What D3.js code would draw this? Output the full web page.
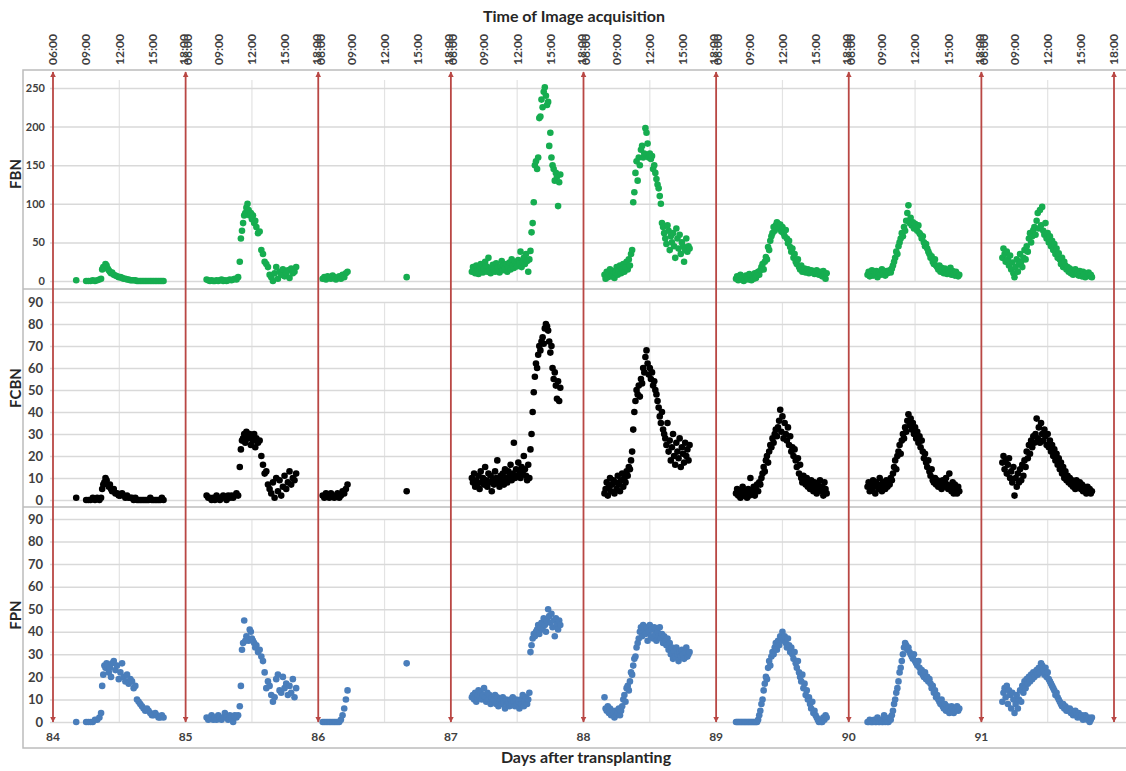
<!DOCTYPE html>
<html><head><meta charset="utf-8">
<script src="https://cdn.jsdelivr.net/npm/d3@7"></script>
<style>body{margin:0;background:#fff}svg text{font-family:Lato,"Open Sans",sans-serif}</style>
</head><body><svg id="chart" width="1126" height="771"></svg>
<script>
// ---------- data ----------
const days = [84, 85, 86, 87, 88, 89, 90, 91];
const timeLabels = ["06:00", "09:00", "12:00", "15:00", "18:00"];
const fbnTicks = [0, 50, 100, 150, 200, 250];
const pctTicks = [0, 10, 20, 30, 40, 50, 60, 70, 80, 90];
const seriesNames = ["FBN", "FCBN", "FPN"];
const seriesColors = ["#16ad50", "#000000", "#4a7ebb"];

// acquisition times (hour of day)
const t84 = [8.1,9.0,9.2,9.4,9.6,9.8,10.0,10.2,10.35,10.45,10.55,10.65,10.75,10.85,10.95,11.05,11.15,11.25,11.35,11.5,11.65,11.8,11.95,12.1,12.25,12.4,12.55,12.7,12.85,13.0,13.15,13.3,13.45,13.6,13.75,13.9,14.05,14.2,14.35,14.5,14.65,14.8,14.95,15.1,15.25,15.4,15.55,15.7,15.85,16.0];
const t85 = [7.9,8.05,8.2,8.35,8.5,8.65,8.8,8.95,9.1,9.25,9.4,9.55,9.7,9.85,10.0,10.15,10.3,10.45,10.6,10.75,10.9,11.0,11.1,11.2,11.3,11.4,11.5,11.6,11.7,11.8,11.9,12.0,12.1,12.2,12.3,12.4,12.55,12.7,12.85,13.0,13.15,13.3,13.45,13.6,13.75,13.9,14.05,14.2,14.35,14.5,14.65,14.8,14.95,15.1,15.25,15.4,15.55,15.7,15.85,16.0];
const t86 = [6.4,6.55,6.7,6.85,7.0,7.15,7.3,7.45,7.6,7.75,7.9,8.05,8.2,8.35,8.5,8.65,14.0];
const t87 = [7.9,8.0,8.1,8.2,8.3,8.4,8.5,8.6,8.7,8.8,8.9,9.0,9.1,9.2,9.3,9.4,9.5,9.6,9.7,9.8,9.9,10.0,10.1,10.2,10.3,10.4,10.5,10.6,10.7,10.8,10.9,11.0,11.1,11.2,11.3,11.4,11.5,11.6,11.7,11.8,11.9,12.0,12.1,12.2,12.3,12.4,12.5,12.6,12.7,12.8,12.9,13.0,13.1,13.2,13.3,13.4,13.5,13.6,13.7,13.8,13.9,14.0,14.1,14.2,14.3,14.4,14.5,14.6,14.7,14.8,14.9,15.0,15.1,15.2,15.3,15.4,15.5,15.6,15.7,15.8,15.9];
const t88 = [7.9,8.0,8.1,8.2,8.3,8.4,8.5,8.6,8.7,8.8,8.9,9.0,9.1,9.2,9.3,9.4,9.5,9.6,9.7,9.8,9.9,10.0,10.1,10.2,10.3,10.4,10.5,10.6,10.7,10.8,10.9,11.0,11.1,11.2,11.3,11.4,11.5,11.6,11.7,11.8,11.9,12.0,12.1,12.2,12.3,12.4,12.5,12.6,12.7,12.8,12.9,13.0,13.1,13.2,13.3,13.4,13.5,13.6,13.7,13.8,13.9,14.0,14.1,14.2,14.3,14.4,14.5,14.6,14.7,14.8,14.9,15.0,15.1,15.2,15.3,15.4,15.5,15.6];
const t89 = [7.8,7.9,8.0,8.1,8.2,8.3,8.4,8.5,8.6,8.7,8.8,8.9,9.0,9.1,9.2,9.3,9.4,9.5,9.6,9.7,9.8,9.9,10.0,10.1,10.2,10.3,10.4,10.5,10.6,10.7,10.8,10.9,11.0,11.1,11.2,11.3,11.4,11.5,11.6,11.7,11.8,11.9,12.0,12.1,12.2,12.3,12.4,12.5,12.6,12.7,12.8,12.9,13.0,13.1,13.2,13.3,13.4,13.5,13.6,13.7,13.8,13.9,14.0,14.1,14.2,14.3,14.4,14.5,14.6,14.7,14.8,14.9,15.0,15.1,15.2,15.3,15.4,15.5,15.6,15.7,15.8,15.9,16.0];
const t90 = [7.7,7.8,7.9,8.0,8.1,8.2,8.3,8.4,8.5,8.6,8.7,8.8,8.9,9.0,9.1,9.2,9.3,9.4,9.5,9.6,9.7,9.8,9.9,10.0,10.1,10.2,10.3,10.4,10.5,10.6,10.7,10.8,10.9,11.0,11.1,11.2,11.3,11.4,11.5,11.6,11.7,11.8,11.9,12.0,12.1,12.2,12.3,12.4,12.5,12.6,12.7,12.8,12.9,13.0,13.1,13.2,13.3,13.4,13.5,13.6,13.7,13.8,13.9,14.0,14.1,14.2,14.3,14.4,14.5,14.6,14.7,14.8,14.9,15.0,15.1,15.2,15.3,15.4,15.5,15.6,15.7,15.8,15.9,16.0];
const t91 = [7.9,8.0,8.1,8.2,8.3,8.4,8.5,8.6,8.7,8.8,8.9,9.0,9.1,9.2,9.3,9.4,9.5,9.6,9.7,9.8,9.9,10.0,10.1,10.2,10.3,10.4,10.5,10.6,10.7,10.8,10.9,11.0,11.1,11.2,11.3,11.4,11.5,11.6,11.7,11.8,11.9,12.0,12.1,12.2,12.3,12.4,12.5,12.6,12.7,12.8,12.9,13.0,13.1,13.2,13.3,13.4,13.5,13.6,13.7,13.8,13.9,14.0,14.1,14.2,14.3,14.4,14.5,14.6,14.7,14.8,14.9,15.0,15.1,15.2,15.3,15.4,15.5,15.6,15.7,15.8,15.9,16.0];

// FBN
const fbn84 = [1,0,0,0,1,0,1,2,3,15,18,17,22,20,16,14,12,10,11,8,7,6,5,5,4,3,3,2,2,1,1,1,1,0,0,0,0,0,0,0,0,0,0,0,0,0,0,0,0,0];
const fbn85 = [2,1,0,1,0,0,1,0,1,2,0,1,0,1,2,1,2,3,2,5,25,55,65,75,85,88,95,100,92,85,88,80,85,75,78,70,62,64,40,35,25,22,18,8,5,0,10,18,3,12,8,15,6,10,14,4,16,10,12,18];
const fbn86 = [3,5,2,6,4,3,7,5,2,4,6,3,8,5,10,12,5];
const fbn87 = [12,18,15,10,20,14,9,17,22,13,11,16,25,19,12,30,14,10,18,21,15,12,23,17,13,11,19,26,14,20,16,22,12,18,24,15,28,20,17,25,21,19,27,23,38,18,24,30,22,35,26,12,28,39,63,75,102,150,155,145,160,211,213,235,225,245,251,240,228,232,175,192,160,150,145,130,140,135,97,128,138];
const fbn88 = [8,3,12,5,10,15,6,9,13,4,11,18,8,14,20,10,16,22,12,18,25,15,28,20,35,40,102,115,140,155,130,160,150,170,175,160,165,198,192,178,160,165,158,162,145,150,140,132,125,120,110,100,75,70,62,55,48,72,65,40,58,50,62,45,30,68,55,42,60,35,50,45,25,40,55,38,45,42];
const fbn89 = [3,6,1,4,8,2,5,0,3,7,4,2,9,5,1,6,3,10,4,7,12,8,14,18,22,15,25,31,28,44,40,52,58,62,70,65,72,76,74,68,73,64,70,62,58,66,55,49,52,44,38,42,30,35,25,22,28,18,15,20,12,14,16,11,13,15,10,12,14,11,13,9,12,14,10,8,12,11,6,13,9,3,10];
const fbn90 = [8,12,6,10,14,7,11,9,13,5,10,12,8,15,9,11,7,13,10,12,14,11,16,20,25,30,38,35,45,50,55,62,58,70,65,78,88,98,75,82,72,76,68,74,70,65,72,62,60,55,58,50,45,48,42,38,35,30,32,25,22,28,20,18,15,20,12,17,14,10,16,12,9,14,11,17,8,13,10,7,12,9,6,8];
const fbn91 = [30,42,35,25,38,28,20,33,15,24,10,5,18,28,12,22,35,25,18,30,40,28,45,38,55,62,50,58,66,70,60,78,88,68,92,72,96,65,60,75,55,62,50,58,45,52,40,48,35,42,30,36,28,22,30,18,25,20,15,18,12,16,10,14,8,12,15,9,11,7,13,10,6,12,8,5,9,7,11,6,8,5];

// FCBN
const fcbn84 = [1,0,0,0,1,0,1,0,1,5,7,8,10,9,7,6,7,5,4,5,3,3,2,2,3,2,1,2,1,1,1,0,1,0,0,0,0,0,0,0,0,1,0,0,0,0,0,0,1,0];
const fcbn85 = [2,1,1,0,1,0,2,1,0,1,2,1,0,2,1,2,1,2,3,2,15,23,27,28,30,26,31,29,28,30,25,29,27,30,24,28,26,27,20,16,12,13,7,5,3,8,1,10,4,9,2,6,11,5,8,13,7,10,9,12];
const fcbn86 = [2,1,3,2,1,3,2,1,2,3,1,2,4,3,5,7,4];
const fcbn87 = [10,8,12,6,9,7,11,5,13,8,10,7,15,9,6,12,8,11,4,9,7,13,10,18,8,6,11,9,12,7,14,10,8,13,11,16,9,12,26,10,14,11,17,13,10,15,12,20,14,11,9,16,10,23,30,40,49,56,62,60,66,70,68,72,74,71,78,80,79,77,72,67,70,60,55,58,52,46,54,45,51];
const fcbn88 = [3,5,8,2,6,10,4,7,9,3,8,5,11,7,4,9,12,6,10,8,13,11,15,14,18,22,32,40,45,50,48,52,47,55,53,60,58,65,68,62,57,60,55,58,52,54,50,48,45,42,38,35,40,32,30,28,25,35,22,27,18,24,30,20,16,26,22,19,28,15,24,21,17,26,20,23,18,25];
const fcbn89 = [3,5,2,4,1,3,6,2,4,3,1,5,2,10,4,3,6,2,5,7,4,8,7,10,12,15,13,18,20,17,22,25,24,28,26,30,32,29,33,36,41,31,38,28,35,30,27,33,25,29,22,24,20,23,18,15,19,12,16,10,8,11,9,7,10,6,8,5,9,7,4,8,6,3,7,5,9,4,6,2,8,5,3];
const fcbn90 = [6,8,4,7,5,9,6,3,8,7,5,10,6,4,8,7,5,9,6,8,7,10,9,12,15,18,14,20,22,25,21,27,30,28,33,31,36,39,34,37,32,35,30,33,28,31,26,29,24,27,22,19,21,17,15,18,13,11,14,9,8,10,7,9,6,8,7,5,9,6,8,10,7,5,12,6,4,8,3,7,5,3,6,4];
const fcbn91 = [17,20,14,18,12,16,19,10,13,8,15,2,10,6,12,8,14,9,16,11,18,15,22,19,25,21,27,24,29,26,30,37,28,33,26,35,30,27,32,29,25,30,24,27,22,25,20,23,18,21,16,19,14,17,12,15,10,13,9,11,8,10,7,9,6,8,5,9,7,6,8,5,7,4,6,5,3,6,4,5,3,4];

// FPN
const fpn84 = [0,0,0,0,0,1,1,2,4,16,21,25,24,26,25,22,24,20,26,27,23,25,19,22,26,20,18,21,17,19,18,15,16,10,9,8,7,6,5,6,5,4,3,3,4,3,2,2,3,2];
const fpn85 = [2,1,2,3,1,2,1,3,2,1,2,4,2,1,3,2,0,3,2,3,7,16,32,35,45,36,38,37,36,41,40,37,36,35,33,34,31,32,29,27,22,15,18,16,12,9,11,19,21,14,13,20,15,17,12,16,13,19,11,15];
const fpn86 = [0,0,0,0,0,0,0,0,0,0,0,1,3,6,10,14,26];
const fpn87 = [11,12,10,13,9,12,14,11,13,10,12,15,11,9,13,10,12,8,11,9,10,12,8,11,7,9,10,8,11,9,6,10,8,9,7,10,8,11,9,7,10,8,9,6,10,8,12,7,9,11,8,10,13,31,34,37,39,38,40,41,43,39,42,44,41,46,43,40,45,50,47,44,48,42,45,38,46,43,41,45,43];
const fpn88 = [11,6,5,7,4,6,3,5,4,2,5,3,4,6,3,5,7,10,12,9,15,16,14,18,22,21,25,28,29,33,35,37,40,42,38,43,41,39,42,36,40,43,38,41,37,42,39,36,40,38,42,37,39,35,38,36,34,37,32,35,30,33,28,31,29,33,30,27,31,29,32,30,28,31,33,29,30,31];
const fpn89 = [0,0,0,0,0,0,0,0,0,0,0,0,0,0,0,0,0,0,0,0,1,3,5,8,10,14,17,20,19,24,27,25,29,31,30,33,35,32,36,34,38,37,40,36,38,35,33,37,34,31,33,30,28,31,26,24,27,22,20,18,21,15,17,12,14,10,11,8,6,9,4,5,3,2,1,0,1,0,0,2,1,3,2];
const fpn90 = [0,0,1,0,0,0,1,0,0,2,0,0,1,0,0,3,0,1,0,0,2,1,3,5,8,10,13,15,18,22,24,27,30,33,35,34,32,33,31,30,29,28,30,27,26,25,27,24,22,23,21,20,22,19,20,18,19,17,15,16,13,14,11,12,10,9,8,10,7,6,8,5,7,6,4,5,7,6,4,5,6,7,5,6];
const fpn91 = [9,13,15,11,16,8,14,12,6,13,10,4,8,12,6,10,14,9,16,13,18,15,19,17,20,18,21,19,22,20,21,23,21,24,22,26,25,23,21,24,20,22,19,18,17,16,15,14,12,13,11,10,9,8,7,8,6,7,5,6,5,6,4,5,3,4,5,3,2,4,3,2,3,1,2,3,2,1,2,0,1,2];

// ---------- assembly ----------
const timesByDay = [t84, t85, t86, t87, t88, t89, t90, t91];
const valuesBySeries = [
  [fbn84, fbn85, fbn86, fbn87, fbn88, fbn89, fbn90, fbn91],
  [fcbn84, fcbn85, fcbn86, fcbn87, fcbn88, fcbn89, fcbn90, fcbn91],
  [fpn84, fpn85, fpn86, fpn87, fpn88, fpn89, fpn90, fpn91]
];
function points(si) {
  const out = [];
  days.forEach((d, di) => {
    const tt = timesByDay[di], vv = valuesBySeries[si][di];
    tt.forEach((h, i) => { if (vv[i] !== undefined) out.push({ x: d + (h - 6) / 12, y: vv[i] }); });
  });
  return out;
}

// ---------- layout ----------
const W = 1126;
const svg = d3.select("#chart");
const x = d3.scaleLinear().domain([84, 92]).range([53, 1114]);
const panels = [
  { y: d3.scaleLinear().domain([0, 250]).range([281, 88]), ticks: fbnTicks, top: 80, fs: 11, lx: 45, titleY: 174 },
  { y: d3.scaleLinear().domain([0, 90]).range([500, 302]), ticks: pctTicks, top: 302, fs: 13, lx: 43, titleY: 388 },
  { y: d3.scaleLinear().domain([0, 90]).range([722, 519]), ticks: pctTicks, top: 519, fs: 13, lx: 43, titleY: 615 }
];
const gridColor = "#d9d9d9", frameColor = "#bcbcbc", textColor = "#404040";

// vertical gridlines at noon
const noon = days.map(d => d + 0.5);
panels.forEach(p => {
  svg.append("g").selectAll("line").data(noon).join("line")
    .attr("x1", d => x(d)).attr("x2", d => x(d))
    .attr("y1", p.top).attr("y2", p.y(0))
    .attr("stroke", "#e3e3e3").attr("stroke-width", 1.2);
});

// horizontal gridlines + y tick labels
panels.forEach(p => {
  const g = svg.append("g").attr("transform", "translate(50,0)")
    .call(d3.axisLeft(p.y).tickValues(p.ticks).tickSize(-(W - 50)).tickPadding(50 - p.lx));
  g.select(".domain").remove();
  g.selectAll(".tick line").attr("stroke", gridColor).attr("stroke-width", 1.5);
  g.selectAll(".tick text").attr("fill", textColor).attr("font-size", p.fs).attr("font-weight", "bold")
    .style("font-family", "Lato, sans-serif");
});

// frame and separators
svg.append("rect").attr("x", 23).attr("y", 70).attr("width", W).attr("height", 678)
  .attr("fill", "none").attr("stroke", frameColor).attr("stroke-width", 1.5);
[289, 507].forEach(yy => svg.append("line").attr("x1", 23).attr("x2", W).attr("y1", yy).attr("y2", yy)
  .attr("stroke", frameColor).attr("stroke-width", 1.5));

// points
seriesNames.forEach((name, si) => {
  const p = panels[si];
  svg.append("g").selectAll("circle").data(points(si)).join("circle")
    .attr("cx", d => x(d.x)).attr("cy", d => p.y(d.y)).attr("r", 3.3)
    .attr("fill", seriesColors[si]);
});

// day arrows
const defs = svg.append("defs");
defs.append("marker").attr("id", "arr").attr("viewBox", "0 0 10 10").attr("refX", 9).attr("refY", 5)
  .attr("markerWidth", 6).attr("markerHeight", 6).attr("markerUnits", "userSpaceOnUse")
  .attr("orient", "auto-start-reverse")
  .append("path").attr("d", "M0,0L10,5L0,10z").attr("fill", "#b94744");
const arrowDays = days.concat([92]);
svg.append("g").selectAll("line").data(arrowDays).join("line")
  .attr("x1", d => x(d)).attr("x2", d => x(d)).attr("y1", 722).attr("y2", 72)
  .attr("stroke", "#b94744").attr("stroke-width", 1.8)
  .attr("marker-start", "url(#arr)").attr("marker-end", "url(#arr)");

// top time axis labels
const topTicks = [];
days.forEach(d => {
  timeLabels.forEach((lab, i) => {
    let off = 0;
    if (i === 0 && d !== 84) off = 2;
    if (i === 4 && d !== 91) off = -2;
    topTicks.push({ v: d + i * 0.25, lab, off });
  });
});
svg.append("g").selectAll("text").data(topTicks).join("text")
  .attr("transform", d => `translate(${x(d.v) + d.off},65) rotate(-90)`)
  .attr("dy", "0.36em").attr("font-size", 12).attr("font-weight", "bold").attr("fill", textColor)
  .text(d => d.lab);

// bottom day labels
svg.append("g").selectAll("text").data(days).join("text")
  .attr("x", d => x(d)).attr("y", 741).attr("text-anchor", "middle")
  .attr("font-size", 12).attr("font-weight", "bold").attr("fill", textColor).text(d => d);

// titles
svg.append("text").attr("x", 574).attr("y", 22).attr("text-anchor", "middle")
  .attr("font-size", 16).attr("font-weight", "bold").attr("fill", "#262626").text("Time of Image acquisition");
svg.append("text").attr("x", 586).attr("y", 763).attr("text-anchor", "middle")
  .attr("font-size", 16).attr("font-weight", "bold").attr("fill", "#262626").text("Days after transplanting");
seriesNames.forEach((name, si) => {
  svg.append("text").attr("transform", `translate(16,${panels[si].titleY}) rotate(-90)`)
    .attr("text-anchor", "middle").attr("dy", "0.35em")
    .attr("font-size", 15).attr("font-weight", "bold").attr("fill", "#262626").text(name);
});
</script></body></html>
